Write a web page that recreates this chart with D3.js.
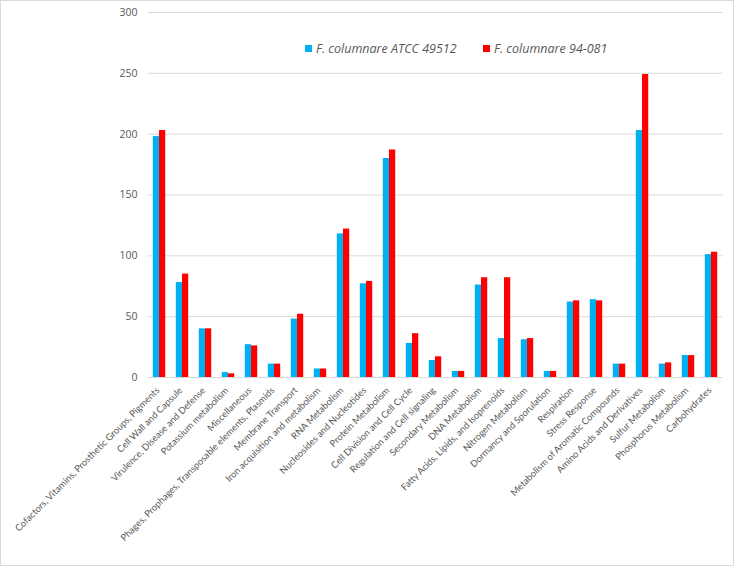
<!DOCTYPE html>
<html><head><meta charset="utf-8">
<script src="https://cdn.jsdelivr.net/npm/d3@7"></script>
<style>body{margin:0;background:#fff;} svg{display:block;}</style>
</head><body>
<svg id="chart" width="734" height="566"></svg>
<script>
const categories = ["Cofactors, Vitamins, Prosthetic Groups, Pigments","Cell Wall and Capsule","Virulence, Disease and Defense","Potassium metabolism","Miscellaneous","Phages, Prophages, Transposable elements, Plasmids","Membrane Transport","Iron acquisition and metabolism","RNA Metabolism","Nucleosides and Nucleotides","Protein Metabolism","Cell Division and Cell Cycle","Regulation and Cell signaling","Secondary Metabolism","DNA Metabolism","Fatty Acids, Lipids, and Isoprenoids","Nitrogen Metabolism","Dormancy and Sporulation","Respiration","Stress Response","Metabolism of Aromatic Compounds","Amino Acids and Derivatives","Sulfur Metabolism","Phosphorus Metabolism","Carbohydrates"];
const atcc = [198,78,40,4,27,11,48,7,118,77,180,28,14,5,76,32,31,5,62,64,11,203,11,18,101];
const f94 = [203,85,40,3,26,11,52,7,122,79,187,36,17,5,82,82,32,5,63,63,11,249,12,18,103];
const seriesNames = ["F. columnare ATCC 49512","F. columnare 94-081"];
const yTicks = [0,50,100,150,200,250,300];
const colors = ["#00B0F0","#FF0000"];

(function(){
const svg = d3.select("#chart");
svg.append("rect").attr("x",0.5).attr("y",0.5).attr("width",733).attr("height",565)
  .attr("fill","none").attr("stroke","#d9d9d9");

const mLeft = 147.5, mRight = 722.5, mTop = 12, mBottom = 377;
const x = d3.scaleBand().domain(categories).range([mLeft,mRight]).paddingInner(0.46).paddingOuter(0.23);
const xs = d3.scaleBand().domain([0,1]).range([0,x.bandwidth()]);
const y = d3.scaleLinear().domain([0,300]).range([mBottom,mTop]);

svg.append("g").selectAll("line").data(yTicks).join("line")
  .attr("x1",mLeft).attr("x2",mRight).attr("y1",d=>y(d)+0.5).attr("y2",d=>y(d)+0.5)
  .attr("stroke","#d9d9d9").attr("stroke-width",1);

const yAxis = d3.axisLeft(y).tickValues(yTicks).tickSize(0).tickPadding(10);
const ya = svg.append("g").attr("transform",`translate(${mLeft},0)`).call(yAxis);
ya.select(".domain").remove();
ya.selectAll("text").attr("font-family","'Open Sans', sans-serif").attr("font-size","10.5px").attr("fill","#595959");

const data = categories.map((c,i)=>({c, v:[atcc[i],f94[i]]}));
const g = svg.append("g");
data.forEach(d=>{
  d.v.forEach((v,j)=>{
    g.append("rect").attr("x",x(d.c)+xs(j)).attr("width",xs.bandwidth())
      .attr("y",y(v)).attr("height",mBottom-y(v)).attr("fill",colors[j]);
  });
});

const xAxis = d3.axisBottom(x).tickSize(0).tickPadding(0);
const xa = svg.append("g").attr("transform",`translate(0,${mBottom})`).call(xAxis);
xa.select(".domain").remove();
xa.selectAll("text").attr("font-family","Lato, sans-serif").attr("font-size","9.3px").attr("fill","#595959")
  .attr("text-anchor","end").attr("dy","0").attr("dx","0")
  .attr("transform","translate(1,14) rotate(-45)");

const legend = svg.append("g");
const lx = [305, 483];
seriesNames.forEach((n,i)=>{
  legend.append("rect").attr("x",lx[i]).attr("y",45).attr("width",7).attr("height",7).attr("fill",colors[i]);
  legend.append("text").attr("x",lx[i]+11).attr("y",52.5).text(n)
    .attr("font-family","'Open Sans', sans-serif").attr("font-style","italic").attr("font-size","12.5px").attr("fill","#595959");
});
})();
</script>
</body></html>
